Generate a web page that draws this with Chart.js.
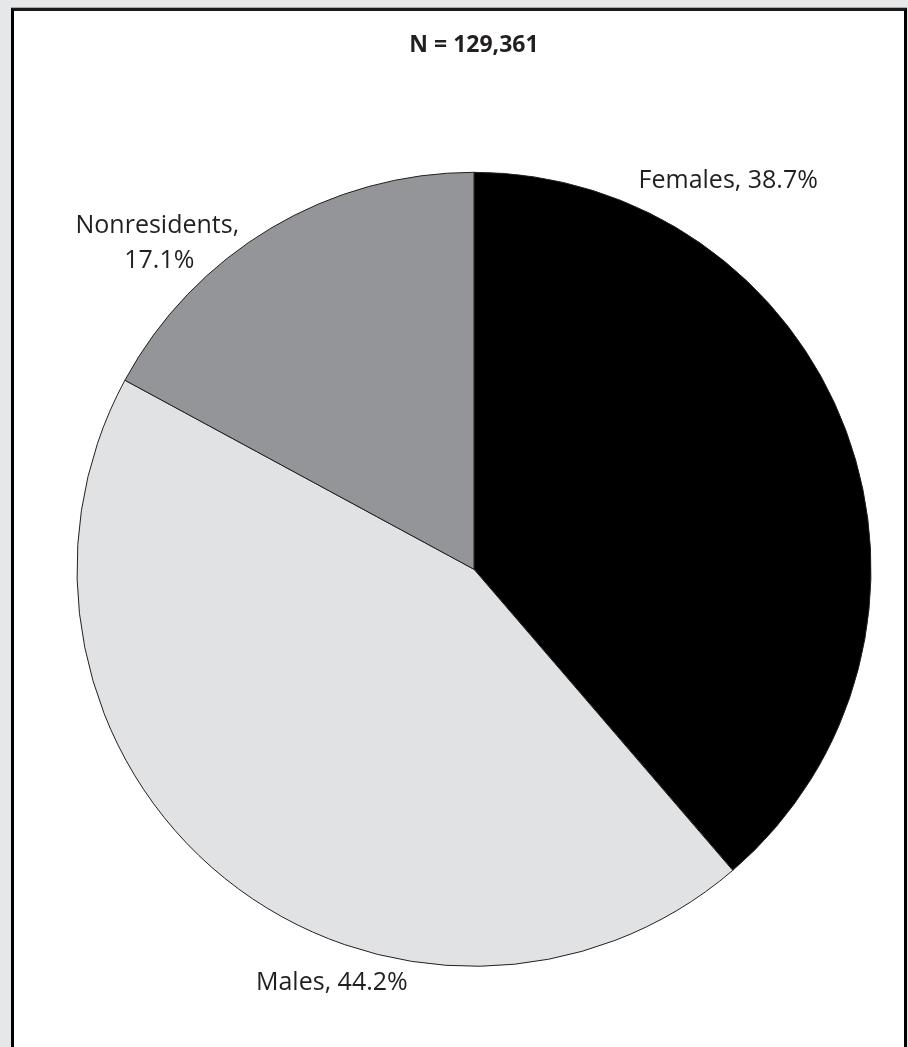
<!DOCTYPE html>
<html>
<head>
<meta charset="utf-8">
<script src="https://cdn.jsdelivr.net/npm/chart.js@4.4.0/dist/chart.umd.min.js"></script>
<style>
  html, body { margin: 0; padding: 0; background: #e6e7e8; overflow: hidden; }
  #panel {
    position: absolute;
    left: 11px;
    top: 8px;
    width: 890px;
    height: 1060px;
    background: #fff;
    border: 3px solid #000;
    border-top-color: #1a1a1a;
    box-shadow: 0 -1px 0 #a7a9ac;
  }
  canvas { display: block; }
</style>
</head>
<body>
<div id="panel">
  <canvas id="pieChart" width="890" height="1036"></canvas>
</div>
<script>
const totalN = "129,361";
const groups = ["Females", "Males", "Nonresidents"];
const shares = [38.7, 44.2, 17.1];
const sliceColors = ["#000000", "#e1e2e3", "#939598"];

// where each label sits: fraction along its slice's arc, distance from centre
const labelSpots = [
  { t: 0.242, r: 458, wrap: false },
  { t: 0.373, r: 444, wrap: false },
  { t: 0.297, r: 462, wrap: true },
];

const sliceLabels = {
  id: "sliceLabels",
  afterDatasetsDraw(chart) {
    const { ctx } = chart;
    const meta = chart.getDatasetMeta(0);
    ctx.save();
    ctx.font = "25px 'Open Sans'";
    ctx.fillStyle = "#231f20";
    ctx.textAlign = "center";
    ctx.textBaseline = "alphabetic";
    meta.data.forEach((arc, i) => {
      const spot = labelSpots[i];
      const a = arc.startAngle + spot.t * (arc.endAngle - arc.startAngle);
      const x = arc.x + spot.r * Math.cos(a);
      const y = arc.y + spot.r * Math.sin(a);
      const pct = shares[i].toFixed(1) + "%";
      if (spot.wrap) {
        ctx.fillText(groups[i] + ",", x, y);
        ctx.fillText(pct, x + 2, y + 35);
      } else {
        ctx.fillText(groups[i] + ", " + pct, x, y);
      }
    });
    ctx.restore();
  },
};

new Chart(document.getElementById("pieChart"), {
  type: "pie",
  data: {
    labels: groups,
    datasets: [
      {
        data: shares,
        backgroundColor: sliceColors,
        borderColor: "#231f20",
        borderWidth: 1,
        radius: 397,
      },
    ],
  },
  options: {
    responsive: false,
    animation: false,
    events: [],
    layout: { padding: { left: 30, right: 0, top: 0, bottom: 0 } },
    plugins: {
      legend: { display: false },
      tooltip: { enabled: false },
      title: {
        display: true,
        text: "N = " + totalN,
        color: "#231f20",
        font: { family: "'Open Sans'", size: 23, weight: "bold", lineHeight: 1.2 },
        padding: { top: 21, bottom: 32 },
      },
    },
  },
  plugins: [sliceLabels],
});
</script>
</body>
</html>
